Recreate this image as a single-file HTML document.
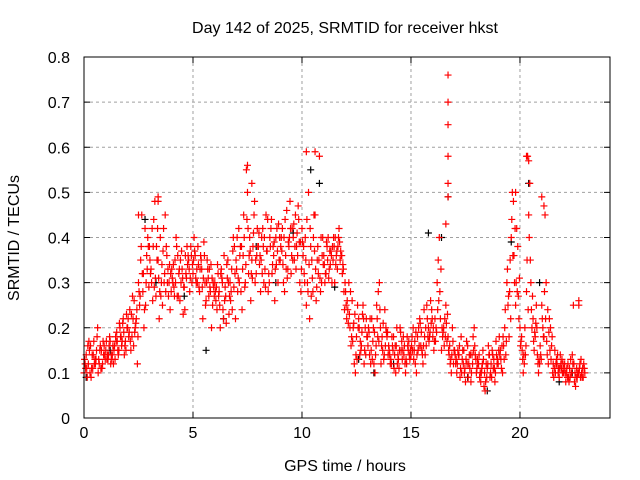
<!DOCTYPE html>
<html><head><meta charset="utf-8">
<style>
html,body{margin:0;padding:0;background:#fff;}
svg{display:block;font-family:"Liberation Sans",sans-serif;}
</style></head>
<body>
<svg id="chart" width="640" height="480" viewBox="0 0 640 480">
<text x="345" y="33" text-anchor="middle" font-size="16">Day 142 of 2025, SRMTID for receiver hkst</text>
<text x="345" y="471" text-anchor="middle" font-size="16">GPS time / hours</text>
<text transform="translate(19,238) rotate(-90)" text-anchor="middle" font-size="16">SRMTID / TECUs</text>
<g id="grid"></g>
<g id="ticks"></g>
<g id="marks"></g>
<rect x="84" y="57" width="526" height="361" fill="none" stroke="#000" stroke-width="1"/>
</svg>
<script>
const xTicks=[0,5,10,15,20];
const yTicks=[0,0.1,0.2,0.3,0.4,0.5,0.6,0.7,0.8];
const yTickLabels=["0","0.1","0.2","0.3","0.4","0.5","0.6","0.7","0.8"];
const stepHours=0.1;
const redA=[
.10,.14,.12,.16,.11,.13,.18,.12,.15,.14,
.15,.13,.17,.14,.16,.19,.15,.18,.22,.17,
.20,.24,.18,.26,.22,.30,.35,.28,.42,.33,
.38,.30,.44,.27,.35,.40,.25,.32,.36,.30,
.28,.34,.30,.36,.26,.33,.29,.31,.35,.38,
.32,.36,.30,.28,.33,.39,.26,.31,.28,.25,
.30,.24,.28,.33,.22,.27,.35,.30,.24,.38,
.33,.42,.28,.36,.30,.50,.40,.35,.45,.32,
.38,.28,.42,.33,.37,.30,.44,.36,.40,.30,
.35,.42,.28,.46,.38,.32,.40,.45,.36,.30,
.42,.32,.25,.50,.38,.28,.45,.35,.58,.30,
.36,.32,.40,.34,.38,.30,.37,.42,.36,.33,
.28,.24,.20,.26,.12,.18,.22,.15,.25,.20,
.18,.14,.22,.12,.16,.28,.20,.15,.24,.18,
.15,.12,.18,.10,.14,.20,.13,.16,.12,.17,
.14,.20,.12,.18,.22,.15,.24,.16,.20,.26,
.18,.22,.30,.40,.15,.20,.25,.18,.12,.20,
.15,.10,.14,.18,.12,.08,.16,.11,.14,.20,
.10,.12,.08,.15,.06,.11,.14,.09,.13,.17,
.12,.15,.10,.20,.30,.18,.40,.48,.25,.38,
.20,.15,.12,.28,.45,.30,.22,.18,.14,.12,
.25,.18,.30,.12,.20,.10,.15,.12,.09,.11,
.10,.08,.12,.09,.14,.08,.11,.10,.13,.09];
const redB=[
.12,.09,.15,.11,.17,.13,.10,.16,.12,.14,
.13,.16,.14,.12,.18,.15,.20,.17,.14,.23,
.18,.15,.22,.20,.12,.25,.45,.20,.30,.38,
.32,.26,.48,.35,.22,.30,.42,.28,.33,.24,
.31,.27,.38,.32,.30,.23,.36,.34,.28,.30,
.40,.30,.34,.36,.22,.30,.35,.33,.20,.29,
.26,.32,.20,.30,.26,.34,.23,.28,.40,.22,
.28,.36,.24,.40,.55,.32,.26,.38,.30,.42,
.34,.40,.30,.45,.28,.38,.34,.26,.42,.35,
.40,.30,.36,.33,.48,.42,.35,.38,.44,.28,
.36,.40,.30,.22,.35,.45,.26,.32,.28,.40,
.30,.38,.33,.36,.40,.34,.38,.35,.32,.24,
.22,.30,.16,.20,.10,.25,.14,.19,.12,.22,
.20,.12,.17,.10,.22,.30,.16,.13,.20,.14,
.12,.16,.14,.20,.11,.15,.18,.10,.16,.13,
.18,.15,.10,.20,.16,.12,.14,.22,.18,.24,
.15,.20,.35,.22,.18,.22,.17,.14,.10,.12,
.12,.15,.09,.13,.10,.17,.12,.08,.18,.14,
.13,.09,.11,.07,.12,.16,.10,.14,.08,.12,
.18,.11,.16,.14,.25,.35,.50,.30,.42,.22,
.17,.10,.14,.58,.52,.20,.15,.25,.10,.14,
.20,.45,.14,.22,.16,.09,.12,.10,.14,.10,
.12,.11,.08,.10,.25,.07,.10,.12,.09,.11];
const redC=[
.13,.11,.17,.09,.14,.12,.20,.15,.11,.16,
.17,.14,.12,.16,.13,.17,.21,.16,.19,.15,
.22,.17,.27,.19,.24,.28,.38,.32,.25,.40,
.35,.42,.29,.38,.31,.27,.37,.45,.30,.34,
.33,.29,.40,.27,.35,.31,.24,.38,.33,.36,
.35,.31,.38,.33,.29,.36,.30,.27,.34,.30,
.28,.34,.25,.31,.36,.21,.30,.26,.37,.32,
.40,.30,.38,.45,.34,.42,.37,.31,.48,.36,
.41,.35,.38,.29,.44,.40,.32,.39,.34,.43,
.38,.34,.44,.31,.40,.36,.43,.33,.47,.39,
.39,.30,.44,.34,.27,.40,.33,.38,.31,.36,
.34,.39,.31,.37,.35,.40,.33,.39,.36,.28,
.25,.21,.28,.17,.23,.13,.20,.16,.22,.14,
.16,.22,.13,.19,.25,.17,.12,.21,.16,.19,
.14,.18,.11,.16,.13,.19,.15,.12,.18,.14,
.16,.13,.19,.15,.21,.14,.18,.25,.17,.21,
.20,.17,.24,.28,.20,.16,.21,.15,.13,.17,
.14,.12,.16,.10,.15,.13,.09,.14,.12,.16,
.11,.14,.10,.13,.08,.12,.09,.15,.11,.14,
.15,.13,.18,.24,.33,.28,.44,.36,.30,.27,
.16,.13,.20,.35,.40,.24,.17,.21,.12,.16,
.22,.28,.17,.19,.13,.12,.10,.14,.11,.13,
.11,.10,.09,.13,.12,.10,.09,.11,.10,.12];
const redD=[
.11,.16,.10,.14,.12,.15,.13,.11,.17,.13,
.14,.18,.13,.15,.17,.14,.18,.21,.16,.20,
.19,.23,.16,.21,.18,.27,.32,.24,.36,.29,
.33,.38,.31,.42,.28,.34,.30,.38,.27,.32,
.30,.35,.27,.33,.37,.29,.32,.36,.31,.34,
.37,.33,.29,.35,.31,.25,.33,.29,.31,.27,
.29,.27,.32,.24,.29,.31,.27,.33,.29,.35,
.31,.38,.33,.29,.44,.36,.32,.41,.35,.38,
.36,.32,.40,.37,.32,.42,.38,.33,.37,.40,
.37,.40,.33,.39,.42,.35,.38,.41,.39,.33,
.38,.35,.28,.42,.31,.37,.29,.35,.40,.34,
.32,.35,.37,.30,.38,.36,.40,.37,.34,.30,
.26,.23,.18,.21,.14,.20,.17,.23,.15,.18,
.19,.15,.20,.14,.18,.24,.18,.14,.19,.16,
.13,.15,.16,.12,.15,.17,.14,.13,.15,.15,
.15,.17,.14,.16,.19,.16,.20,.18,.19,.22,
.17,.19,.26,.33,.19,.18,.23,.16,.14,.15,
.13,.14,.11,.15,.11,.12,.14,.10,.15,.13,
.12,.10,.12,.10,.09,.14,.12,.11,.10,.13,
.14,.16,.13,.17,.27,.22,.36,.42,.28,.31,
.18,.14,.16,.24,.35,.27,.19,.20,.13,.13,
.18,.22,.24,.15,.18,.11,.13,.11,.12,.12,
.10,.09,.11,.10,.12,.09,.10,.09,.11,.10];
const extraT=[16.7,16.7,16.7,16.7,16.7,16.7,16.6,10.2,10.6,7.5,7.7,3.4,3.4,2.5,20.3,20.4,19.8,21.0,21.1,22.7,22.7];
const extraV=[0.76,0.70,0.65,0.58,0.52,0.49,0.43,0.59,0.59,0.56,0.52,0.49,0.48,0.45,0.58,0.57,0.50,0.49,0.47,0.26,0.25];
const blackT=[0.1,1.2,2.8,3.3,4.6,5.6,6.4,7.9,8.8,9.6,10.4,10.8,11.5,12.6,13.3,14.2,15.8,16.4,16.7,17.6,18.5,19.6,20.4,20.9,21.8,22.4];
const blackV=[0.09,0.15,0.44,0.30,0.27,0.15,0.22,0.38,0.30,0.41,0.55,0.52,0.29,0.13,0.10,0.12,0.41,0.40,0.49,0.09,0.06,0.39,0.52,0.30,0.08,0.10];

const X0=84,X1=610,Y0=418,Y1=57,XMAX=24.13,YMAX=0.8;
const xs=h=>X0+h/XMAX*(X1-X0);
const ys=v=>Y0-v/YMAX*(Y0-Y1);
const NS="http://www.w3.org/2000/svg";
function mk(tag,attrs,parent){const e=document.createElementNS(NS,tag);for(const k in attrs)e.setAttribute(k,attrs[k]);parent.appendChild(e);return e;}
const grid=document.getElementById('grid'),ticks=document.getElementById('ticks'),marks=document.getElementById('marks');
xTicks.forEach((t,i)=>{const x=xs(t);
 if(t>0){const g=mk('line',{x1:x,x2:x,y1:Y1,y2:Y0,stroke:'#a0a0a0','stroke-dasharray':'3,3'},grid);
 
 }
 const a=mk('line',{x1:x,x2:x,y1:Y0,y2:Y0-6,stroke:'#000'},ticks);
 
 
 const b=mk('line',{x1:x,x2:x,y1:Y1,y2:Y1+6,stroke:'#000'},ticks);
 
 
 const l=mk('text',{x:x,y:Y0+20,'text-anchor':'middle','font-size':16},ticks);l.textContent=String(t);
 
 
});
yTicks.forEach((v,i)=>{const y=ys(v);
 if(v>0&&v<YMAX){const g=mk('line',{x1:X0,x2:X1,y1:y,y2:y,stroke:'#a0a0a0','stroke-dasharray':'3,3'},grid);
 
 }
 const a=mk('line',{x1:X0,x2:X0+6,y1:y,y2:y,stroke:'#000'},ticks);
 
 
 const b=mk('line',{x1:X1,x2:X1-6,y1:y,y2:y,stroke:'#000'},ticks);
 
 
 const l=mk('text',{x:X0-14,y:y+6,'text-anchor':'end','font-size':16},ticks);l.textContent=yTickLabels[i];
 
 
});
function cross(t,v,color,name){const x=xs(t),y=ys(v);
 const p=mk('path',{d:`M${x-3.5},${y}h7M${x},${y-3.5}v7`,stroke:color,'stroke-width':1.2,fill:'none'},marks);
 
 
}
blackT.forEach((t,i)=>cross(t,blackV[i],'#000','black-point'));
redA.forEach((v,i)=>cross(i*stepHours,v,'#f00','red-point'));
redB.forEach((v,i)=>cross(i*stepHours+stepHours/2,v,'#f00','red-point'));
redC.forEach((v,i)=>cross(i*stepHours+stepHours/4,v,'#f00','red-point'));
redD.forEach((v,i)=>cross(i*stepHours+3*stepHours/4,v,'#f00','red-point'));
extraT.forEach((t,i)=>cross(t,extraV[i],'#f00','red-point'));
</script>
</body></html>
